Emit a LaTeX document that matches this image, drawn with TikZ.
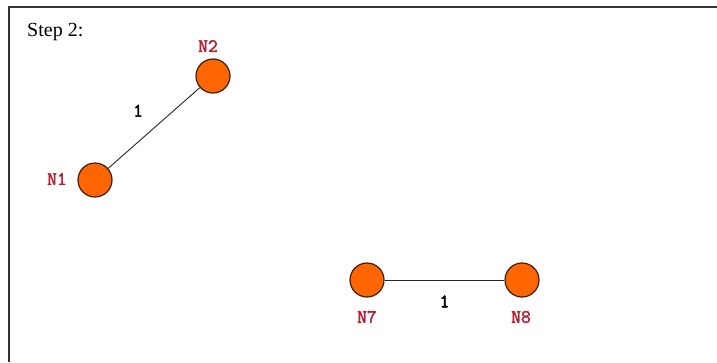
\documentclass[tikz,border=0pt]{standalone}
\usepackage{fontspec}
\setmainfont{Liberation Serif}
\newfontfamily\tagfont{Latin Modern Mono}[FakeBold=2.2]
\usepackage{tikz}
\usetikzlibrary{positioning}
\definecolor{nodefill}{HTML}{FF6600}
\definecolor{nodeline}{HTML}{3A1E0A}
\definecolor{tagred}{HTML}{B22234}

\begin{document}
\begin{tikzpicture}[x=1pt,y=-1pt,
  vertex/.style={circle,draw=nodeline,line width=1.2pt,fill=nodefill,minimum size=34pt,inner sep=0pt},
  tag/.style={font=\fontsize{19}{20}\selectfont\tagfont,text=tagred,inner sep=0pt},
  link/.style={draw=black!85,line width=0.9pt},
  weight/.style={font=\fontsize{19}{20}\selectfont\tagfont,inner sep=0pt}]
  \useasboundingbox (0,0) rectangle (717,362);
  % frame, cut off at the right and the bottom
  \draw[line width=1.2pt,black!80] (717,7) -- (9,7) -- (9,362);
  \node[font=\fontsize{20}{22}\selectfont,anchor=base west,inner sep=0pt] (title) at (27,36) {Step 2:};
  % first pair
  \node[vertex] (n1) at (95,180) {};
  \node[vertex] (n2) at (213,76) {};
  \node[tag] (l1) at (57,179) {N1};
  \node[tag] (l2) at (208,46) {N2};
  \draw[link] (n1) -- node[weight,pos=0.45,above left=15pt and 6pt] {1} (n2);
  % second pair
  \node[vertex] (n7) at (367,280) {};
  \node[vertex] (n8) at (522,280) {};
  \node[tag] (l7) at (367,317) {N7};
  \node[tag] (l8) at (521,317) {N8};
  \draw[link] (n7) -- node[weight,below=15pt] {1} (n8);
\end{tikzpicture}
\end{document}
